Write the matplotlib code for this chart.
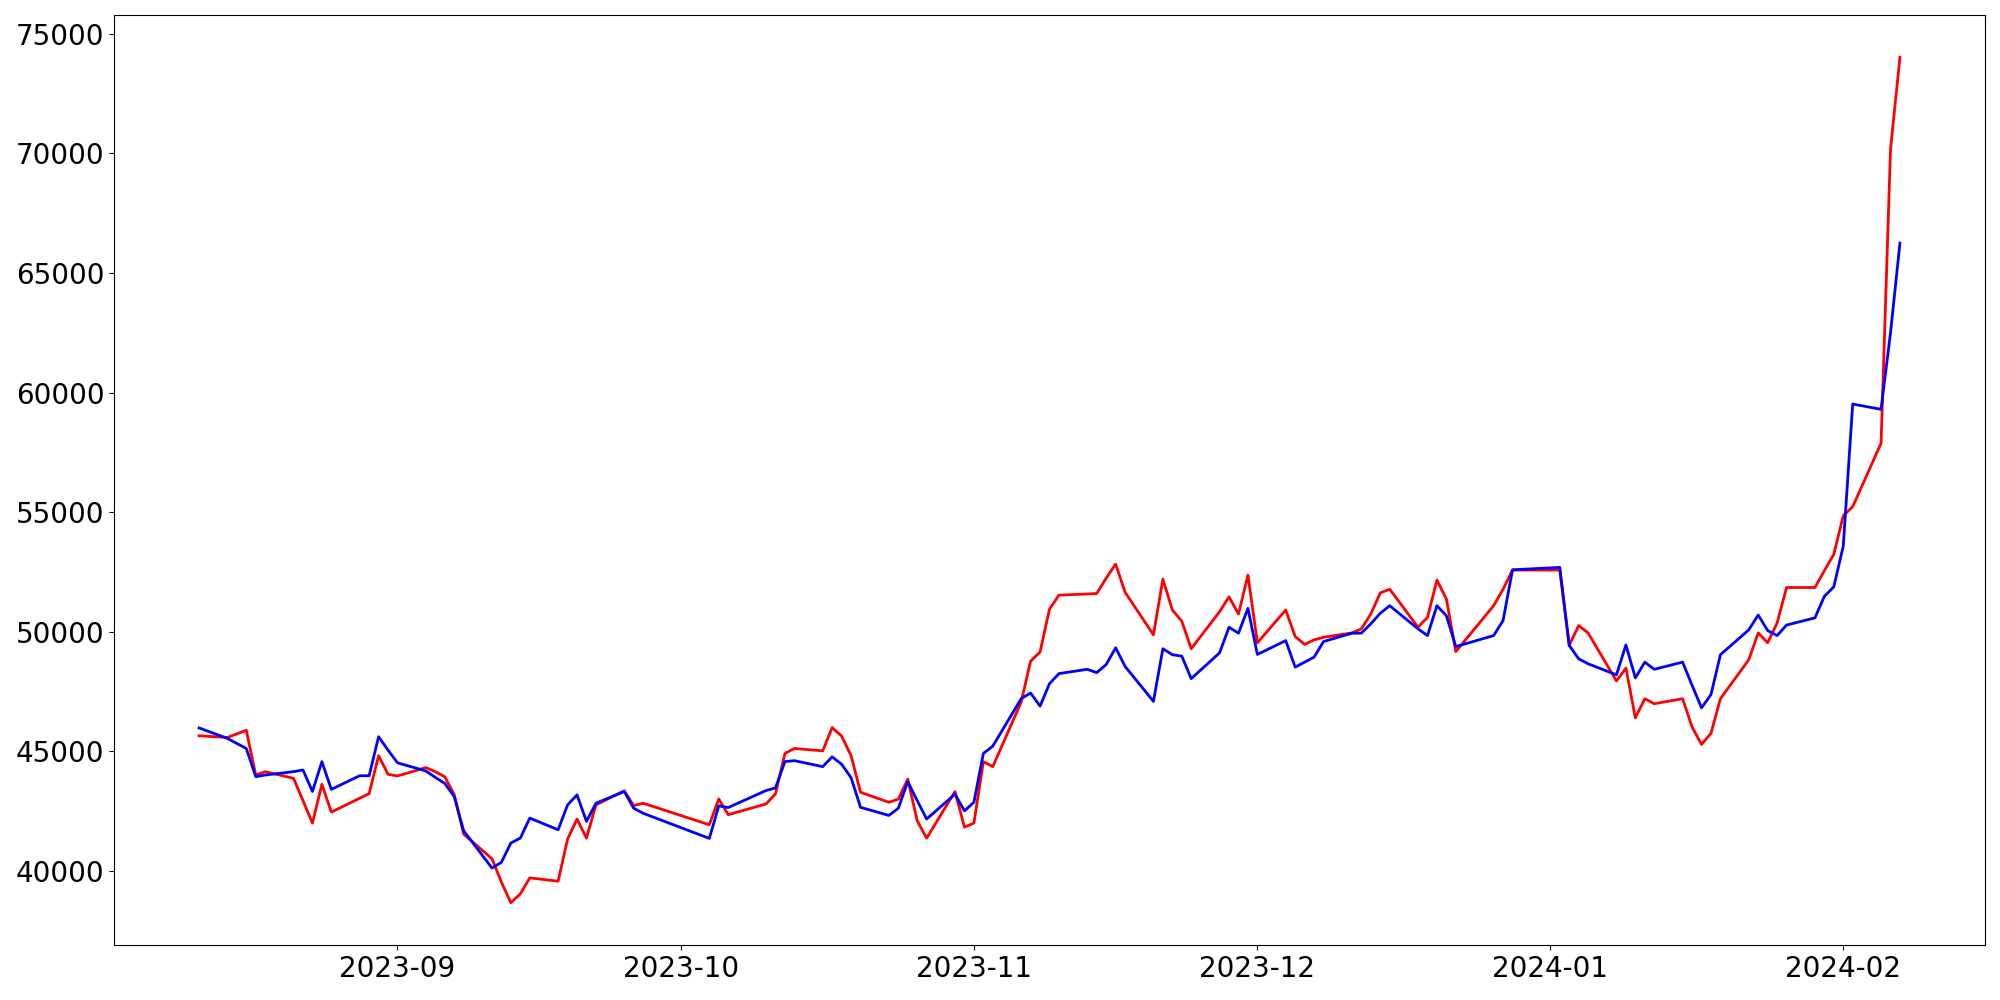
import matplotlib
matplotlib.use("Agg")
import matplotlib.pyplot as plt
import matplotlib.dates as mdates
import pandas as pd

# Trading days (Korean market calendar) shown in the chart
start_date = "2023-08-11"
end_date = "2024-02-07"
holidays = ["2023-08-15", "2023-09-28", "2023-09-29", "2023-10-02", "2023-10-03",
            "2023-10-09", "2023-12-25", "2023-12-29", "2024-01-01"]

red_values = [
    45650, 45580, 45880, 44010, 44150, 43870, 42940, 42000, 43620, 42460,
    43040, 43230, 44820, 44040, 43970, 44320, 44150, 43940, 43200, 41540,
    40510, 39530, 38670, 39040, 39710, 39570, 41330, 42170, 41370, 42760,
    43350, 42730, 42830, 41930, 43010, 42350, 42800, 43220, 44910, 45120,
    45020, 45990, 45640, 44820, 43290, 42870, 43000, 43840, 42100, 41370,
    43320, 41830, 42000, 44570, 44360, 47060, 48770, 49150, 50950, 51530,
    51580, 51600, 52240, 52830, 51650, 49870, 52200, 50910, 50440, 49290,
    50840, 51460, 50740, 52370, 49540, 50910, 49800, 49470, 49660, 49770,
    49950, 50120, 50740, 51620, 51780, 50190, 50600, 52160, 51370, 49170,
    51090, 51780, 52580, 52580, 49430, 50260, 49950, 47940, 48480, 46400,
    47200, 46990, 47200, 46020, 45290, 45750, 47200, 48830, 49950, 49540,
    50370, 51850, 51850, 52550, 53240, 54850, 55230, 57880, 70170, 74020,
]

blue_values = [
    45980, 45540, 45120, 43940, 44010, 44150, 44220, 43320, 44570, 43410,
    43980, 43980, 45610, 45050, 44520, 44180, 43910, 43660, 43110, 41680,
    40120, 40360, 41170, 41370, 42210, 41720, 42760, 43180, 42070, 42830,
    43320, 42620, 42410, 41360, 42720, 42650, 43360, 43470, 44570, 44610,
    44360, 44770, 44460, 43900, 42660, 42320, 42620, 43730, 42940, 42170,
    43210, 42510, 42870, 44910, 45220, 47200, 47440, 46890, 47830, 48250,
    48430, 48290, 48630, 49330, 48550, 47090, 49290, 49040, 48980, 48040,
    49120, 50190, 49940, 50980, 49050, 49630, 48520, 48730, 48940, 49590,
    49940, 49940, 50330, 50770, 51090, 50120, 49840, 51090, 50670, 49380,
    49840, 50470, 52590, 52690, 49430, 48870, 48660, 48200, 49450, 48070,
    48730, 48430, 48730, 47760, 46820, 47370, 49040, 50080, 50700, 50050,
    49840, 50280, 50580, 51480, 51880, 53580, 59520, 59300, 62500, 66250,
]

dates = pd.bdate_range(start_date, end_date)
dates = dates[~dates.isin(pd.to_datetime(holidays))]

fig = plt.figure(figsize=(20, 10), dpi=100)
ax = fig.add_axes([0.057, 0.055, 0.9355, 0.93])
ax.plot(dates, red_values, color="red", linewidth=2)
ax.plot(dates, blue_values, color="blue", linewidth=2)

ax.xaxis.set_major_locator(mdates.MonthLocator())
ax.xaxis.set_major_formatter(mdates.DateFormatter("%Y-%m"))
ax.tick_params(axis="both", labelsize=20)

fig.savefig("out.png", dpi=100)
